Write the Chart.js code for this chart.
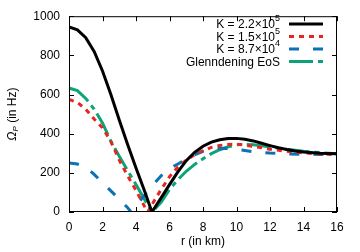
<!DOCTYPE html>
<html><head><meta charset="utf-8">
<script src="https://cdn.jsdelivr.net/npm/chart.js@4/dist/chart.umd.min.js"></script>
<style>html,body{margin:0;padding:0;background:#fff}</style>
</head><body>
<canvas id="c" width="360" height="252"></canvas>
<script>
const rK22 = [0,0.5,1,1.5,2,2.5,3,3.5,4,4.5,4.95,5.5,6,6.5,7,7.5,8,8.5,9,9.5,10,10.5,11,11.5,12,12.5,13,13.5,14,15,16];
const vK22 = [945,930,890,820,720,600,470,345,225,110,0,72,140,205,262,305,336,357,369,375,376,372,363,351,339,328,319,312,306,300,298];
const rK15 = [0,0.5,1,1.5,2,2.5,3,3.5,4,4.5,4.7,5,5.5,6,6.5,7,7.5,8,8.5,9,9.5,10,10.5,11,11.5,12,13,14,15,16];
const vK15 = [575,560,525,475,430,360,265,185,110,30,0,45,115,180,230,265,293,313,330,340,345,346,342,335,328,321,310,302,296,293];
const rK87 = [0,0.5,1,1.5,2,2.5,3,3.5,3.7,4,4.5,5,5.5,6,6.5,7,7.5,8,8.5,9,9.5,10,10.5,11,12,13,14,15,16];
const vK87 = [250,245,230,192,150,108,65,22,0,33,85,138,185,222,245,270,292,310,320,325,324,320,314,308,301,297,295,294,293];
const rGl = [0,0.5,1,1.5,2,2.5,3,3.5,4,4.5,4.97,5.5,6,6.5,7,7.5,8,8.5,9,9.5,10,10.5,11,11.5,12,12.5,13,13.5,14,15,16];
const vGl = [633,620,580,525,455,362,285,212,140,65,0,50,115,165,208,243,272,298,318,333,343,345,343,338,332,326,320,315,310,303,298];
const xTicks = [0,2,4,6,8,10,12,14,16];
const yTicks = [0,200,400,600,800,1000];
const labels = ['K = 2.2×10|5','K = 1.5×10|5','K = 8.7×10|4','Glenndening EoS'];
const colors = ['#000000','#e8261f','#0a72b5','#0ca37a'];
const dashes = [[],[5,5],[10,14],[24,5,5,5]];

function pts(r,v){return r.map((x,i)=>({x:x,y:v[i]}));}
const series=[pts(rK22,vK22),pts(rK15,vK15),pts(rK87,vK87),pts(rGl,vGl)];

const FONT='"Liberation Sans", Arial, sans-serif';

const deco={
  id:'deco',
  afterDraw(chart){
    const ctx=chart.ctx, a=chart.chartArea, xs=chart.scales.x, ys=chart.scales.y;
    ctx.save();
    ctx.strokeStyle='#000'; ctx.lineWidth=1;
    ctx.strokeRect(a.left+0.5,a.top+0.5,a.right-a.left-1,a.bottom-a.top-1);
    ctx.beginPath();
    xTicks.forEach(t=>{const p=Math.round(xs.getPixelForValue(t))+0.5;
      ctx.moveTo(p,a.bottom);ctx.lineTo(p,a.bottom-5);ctx.moveTo(p,a.top);ctx.lineTo(p,a.top+5);});
    yTicks.forEach(t=>{const p=Math.round(ys.getPixelForValue(t))+0.5;
      ctx.moveTo(a.left,p);ctx.lineTo(a.left+5,p);ctx.moveTo(a.right,p);ctx.lineTo(a.right-5,p);});
    ctx.stroke();
    // axis titles
    ctx.fillStyle='#000';
    ctx.font='12px '+FONT; ctx.textAlign='center'; ctx.textBaseline='middle';
    ctx.fillText('r (in km)',(a.left+a.right)/2,242);
    ctx.save();
    ctx.translate(13,(a.top+a.bottom)/2); ctx.rotate(-Math.PI/2);
    const p1='Ω', p2='P', p3=' (in Hz)';
    ctx.font='italic 12px '+FONT; const w1=ctx.measureText(p1).width;
    ctx.font='italic 8px '+FONT; const w2=ctx.measureText(p2).width;
    ctx.font='12px '+FONT; const w3=ctx.measureText(p3).width;
    let x=-(w1+w2+w3)/2; ctx.textAlign='left';
    ctx.font='italic 12px '+FONT; ctx.fillText(p1,x,0); x+=w1;
    ctx.font='italic 8px '+FONT; ctx.fillText(p2,x,3); x+=w2;
    ctx.font='12px '+FONT; ctx.fillText(p3,x,0);
    ctx.restore();
    // legend
    const rowsY=[24,36.5,49,61.5];
    labels.forEach((lab,i)=>{
      const y=rowsY[i]; const parts=lab.split('|');
      ctx.fillStyle='#000';
      ctx.textBaseline='middle'; ctx.textAlign='right';
      let xr=280;
      if(parts.length>1){
        ctx.font='9px '+FONT; ctx.fillText(parts[1],xr,y-5);
        xr-=ctx.measureText(parts[1]).width;
      }
      ctx.font='12px '+FONT; ctx.fillText(parts[0],xr,y+1);
      ctx.beginPath(); ctx.setLineDash(dashes[i]); ctx.lineWidth=3; ctx.strokeStyle=colors[i];
      ctx.moveTo(289,y); ctx.lineTo(323,y); ctx.stroke(); ctx.setLineDash([]);
    });
    ctx.restore();
  }
};

new Chart(document.getElementById('c'),{
  type:'line',
  data:{datasets:series.map((d,i)=>({label:labels[i].replace('|',''),data:d,borderColor:colors[i],borderWidth:3,borderDash:dashes[i],pointRadius:0,tension:0,fill:false}))},
  options:{
    responsive:false,animation:false,devicePixelRatio:1,
    layout:{padding:{top:15,right:23,left:0,bottom:0}},
    plugins:{legend:{display:false},tooltip:{enabled:false}},
    scales:{
      x:{type:'linear',min:0,max:16,
        afterFit(s){s.height=40;},
        afterBuildTicks(s){s.ticks=xTicks.map(v=>({value:v}));},
        grid:{display:false,drawTicks:false},border:{display:false},
        ticks:{padding:8,color:'#000',font:{family:FONT,size:12},maxRotation:0,callback:v=>String(v)}},
      y:{type:'linear',min:0,max:1000,
        afterFit(s){s.width=69;},
        afterBuildTicks(s){s.ticks=yTicks.map(v=>({value:v}));},
        grid:{display:false,drawTicks:false},border:{display:false},
        ticks:{padding:9,color:'#000',font:{family:FONT,size:12},callback:v=>String(v)}}
    }
  },
  plugins:[deco]
});
</script>
</body></html>
